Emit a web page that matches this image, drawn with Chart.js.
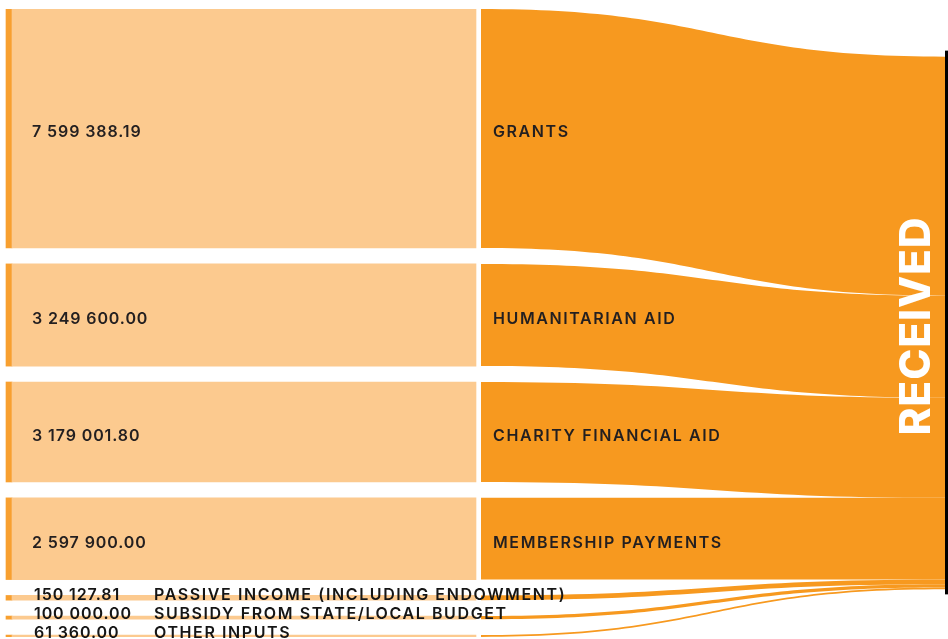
<!DOCTYPE html>
<html>
<head>
<meta charset="utf-8">
<script src="https://cdn.jsdelivr.net/npm/chart.js@4.4.1/dist/chart.umd.min.js"></script>
<style>
  html, body { margin: 0; padding: 0; background: #ffffff; overflow: hidden; }
  #wrap { width: 948px; height: 639px; position: relative; }
</style>
</head>
<body>
<div id="wrap"><canvas id="flowChart"></canvas></div>
<script>
// Income sources and how much came in from each
const sourceNames = [
  'GRANTS',
  'HUMANITARIAN AID',
  'CHARITY FINANCIAL AID',
  'MEMBERSHIP PAYMENTS',
  'PASSIVE INCOME (INCLUDING ENDOWMENT)',
  'SUBSIDY FROM STATE/LOCAL BUDGET',
  'OTHER INPUTS'
];
const sourceAmounts = [7599388.19, 3249600.00, 3179001.80, 2597900.00, 150127.81, 100000.00, 61360.00];
const targetName = 'RECEIVED';

// Colours
const COLOR_NODE = '#FCCA8F';
const COLOR_STRIP = '#F8A030';
const COLOR_FLOW = '#F7991F';
const COLOR_TEXT = '#231F20';

// Horizontal layout, in x-scale units (the x scale spans the canvas width)
const X_MAX = 948;
const STRIP = [6, 12];
const NODE = [12, 476];
const FLOW = [481, 945];
const EDGE = [945, 948];
const VALUE_LABEL_X = 32;
const NAME_LABEL_X = 493;
const SMALL_NAME_LABEL_X = 154;
const TARGET_LABEL_X = 917;

const LABEL_FONT = '600 16px Inter, "Open Sans", sans-serif';
const TARGET_FONT = '800 42px Inter, "Open Sans", sans-serif';

// Vertical layout in value units: nodes stacked with a padding between them
const total = sourceAmounts.reduce((a, b) => a + b, 0);
const nodeGap = total * 0.0298;
const yMax = total + nodeGap * (sourceAmounts.length - 1);

const sourceRanges = [];
let cursor = 0;
sourceAmounts.forEach(v => {
  sourceRanges.push([cursor, cursor + v]);
  cursor += v + nodeGap;
});

// The received node is centred in the same vertical span
const targetTop = (yMax - total) / 2;
const targetRanges = [];
cursor = targetTop;
sourceAmounts.forEach(v => {
  targetRanges.push([cursor, cursor + v]);
  cursor += v;
});

function formatAmount(v) {
  const [intPart, dec] = v.toFixed(2).split('.');
  return intPart.replace(/\B(?=(\d{3})+(?!\d))/g, ' ') + '.' + dec;
}

const centre = r => (r[0] + r[1]) / 2;

// Ribbons from each source to the received node
const flowPlugin = {
  id: 'flows',
  beforeDatasetsDraw(chart) {
    const { ctx, scales: { x, y } } = chart;
    const x0 = x.getPixelForValue(FLOW[0]);
    const x1 = x.getPixelForValue(FLOW[1]);
    const xm = (x0 + x1) / 2;
    ctx.save();
    ctx.fillStyle = COLOR_FLOW;
    sourceRanges.forEach((s, i) => {
      const t = targetRanges[i];
      const sy0 = y.getPixelForValue(s[0]);
      const sy1 = y.getPixelForValue(s[1]);
      const ty0 = y.getPixelForValue(t[0]);
      const ty1 = y.getPixelForValue(t[1]);
      ctx.beginPath();
      ctx.moveTo(x0, sy0);
      ctx.bezierCurveTo(xm, sy0, xm, ty0, x1, ty0);
      ctx.lineTo(x1, ty1);
      ctx.bezierCurveTo(xm, ty1, xm, sy1, x0, sy1);
      ctx.closePath();
      ctx.fill();
    });
    // dark edge of the received node
    const e0 = x.getPixelForValue(EDGE[0]);
    const e1 = x.getPixelForValue(EDGE[1]);
    const top = y.getPixelForValue(targetTop) - 6;
    const bottom = y.getPixelForValue(targetTop + total) + 5;
    ctx.fillStyle = '#000000';
    ctx.fillRect(e0, top, e1 - e0, bottom - top);
    ctx.restore();
  }
};

// Amounts, names and the received label
const labelPlugin = {
  id: 'labels',
  afterDatasetsDraw(chart) {
    const { ctx, scales: { x, y } } = chart;
    ctx.save();
    ctx.textBaseline = 'middle';
    ctx.textAlign = 'left';
    ctx.font = LABEL_FONT;
    sourceRanges.forEach((r, i) => {
      const yc = y.getPixelForValue(centre(r));
      const h = Math.abs(y.getPixelForValue(r[1]) - y.getPixelForValue(r[0]));
      const big = h > 20;
      const ly = big ? yc + 4 : yc - 3;
      ctx.fillStyle = big ? COLOR_TEXT : '#151515';
      ctx.letterSpacing = '0.9px';
      ctx.fillText(formatAmount(sourceAmounts[i]), x.getPixelForValue(big ? VALUE_LABEL_X : VALUE_LABEL_X + 2), ly);
      ctx.letterSpacing = '1.6px';
      ctx.fillText(sourceNames[i], x.getPixelForValue(big ? NAME_LABEL_X : SMALL_NAME_LABEL_X), ly);
    });
    const tc = y.getPixelForValue(targetTop + total / 2) + 3;
    ctx.translate(x.getPixelForValue(TARGET_LABEL_X), tc);
    ctx.rotate(-Math.PI / 2);
    ctx.textAlign = 'center';
    ctx.fillStyle = '#ffffff';
    ctx.font = TARGET_FONT;
    ctx.letterSpacing = '1px';
    ctx.fillText(targetName, 0, 0);
    ctx.restore();
  }
};

const nodeBars = (xr, color, label) => ({
  label,
  data: sourceRanges.map(r => ({ x: (xr[0] + xr[1]) / 2, y: r })),
  backgroundColor: color,
  barThickness: xr[1] - xr[0],
  grouped: false,
  borderWidth: 0,
  borderSkipped: false
});

new Chart(document.getElementById('flowChart'), {
  type: 'bar',
  data: {
    datasets: [
      nodeBars(NODE, COLOR_NODE, 'Sources'),
      nodeBars(STRIP, COLOR_STRIP, 'Source edge')
    ]
  },
  options: {
    responsive: true,
    maintainAspectRatio: false,
    animation: false,
    layout: { padding: { top: 9, bottom: 2, left: 0, right: 0 } },
    plugins: { legend: { display: false }, tooltip: { enabled: false } },
    scales: {
      x: { type: 'linear', min: 0, max: X_MAX, display: false, offset: false },
      y: { type: 'linear', min: 0, max: yMax, reverse: true, display: false }
    }
  },
  plugins: [flowPlugin, labelPlugin]
});
</script>
</body>
</html>
